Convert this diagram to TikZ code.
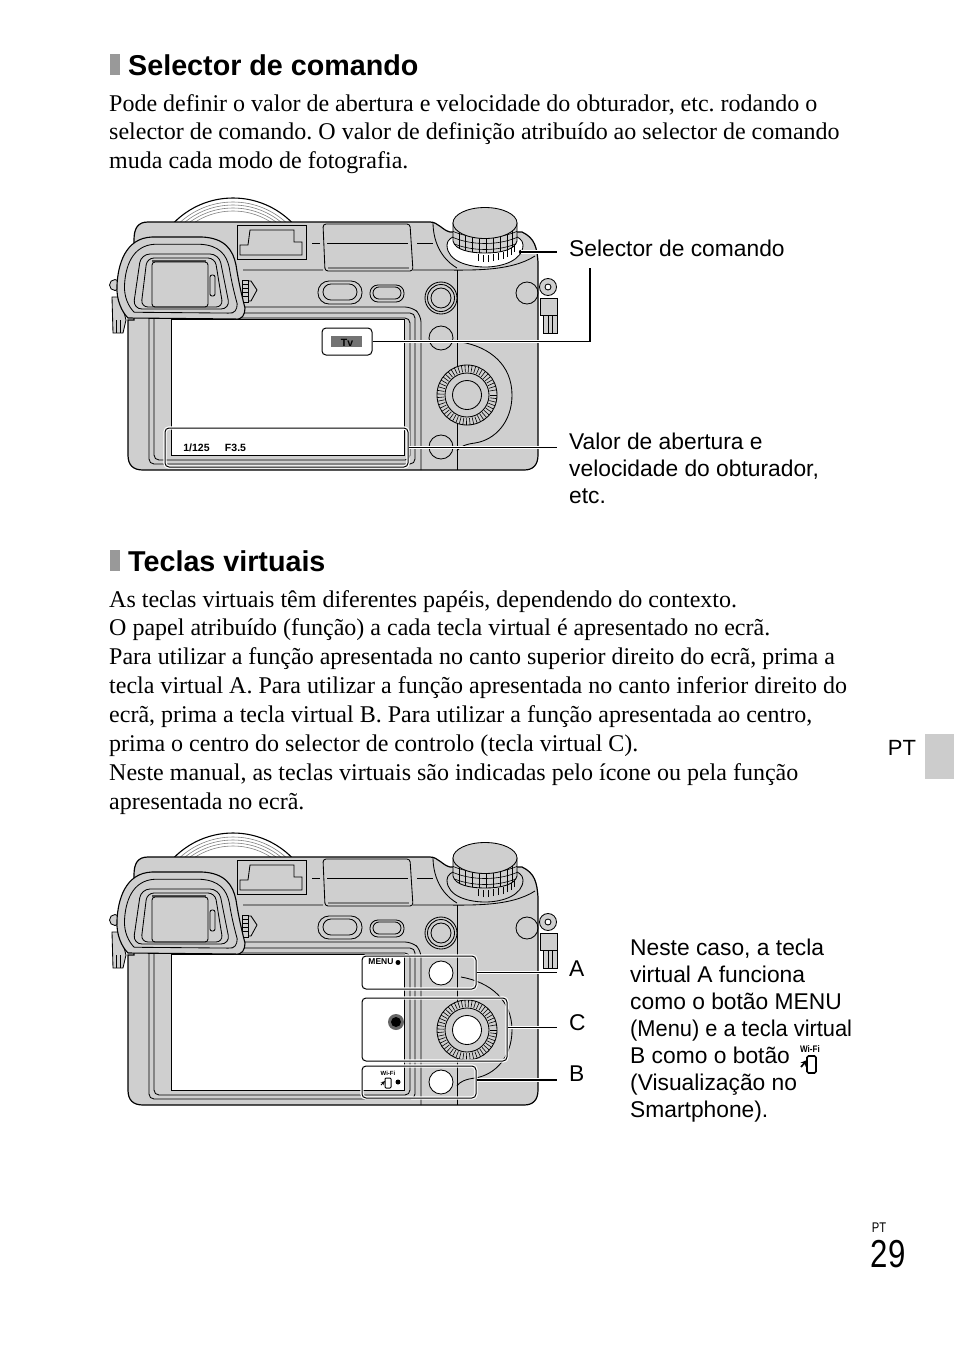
\documentclass[tikz,border=0pt]{standalone}
\usepackage{fontspec}
\setmainfont{Liberation Serif}
\setsansfont{Liberation Sans}
\usetikzlibrary{positioning}

\definecolor{bodygray}{HTML}{CFCFCF}
\definecolor{tabgray}{HTML}{CCCCCC}
\definecolor{markgray}{HTML}{999999}

\tikzset{
	heading/.style={inner sep=0pt,anchor=west,font=\sffamily\bfseries\fontsize{28.7}{32}\selectfont},
	bodytext/.style={inner sep=0pt,anchor=north west,align=left,font=\frenchspacing\fontsize{24}{28.85}\selectfont},
	lbl/.style={inner sep=0pt,anchor=north west,align=left,font=\sffamily\frenchspacing\fontsize{22.8}{26.9}\selectfont},
	tiny/.style={inner sep=0pt,font=\sffamily\bfseries\fontsize{10.5}{11}\selectfont},
	callbox/.style={draw=white,line width=3.4pt,rounded corners=4pt},
	callframe/.style={draw=black,line width=1pt,rounded corners=4pt,inner sep=0pt},
	callline/.style={draw=black,line width=1.1pt,preaction={draw=white,line width=3.4pt}},
	part/.style={draw=black,line width=.85pt},
}

\newcommand{\eyeoutline}{(128,318) .. controls (122,312) and (116,300) .. (117,285) .. controls (118,265) and (125,238) .. (152,237) -- (202,237) .. controls (225,238) and (233,250) .. (236,265) .. controls (239,285) and (243,300) .. (245,308) .. controls (245,315) and (242,320) .. (235,319) -- cycle}

% #1 dial ring, #2 buttons
\newcommand{\cameraback}[2]{
	% lens
	\begin{scope}
		\clip (160,190) rectangle (310,224);
		\draw[draw=black,line width=1.1pt,fill=white] (233,281) circle (83);
		\draw[gray,line width=.6pt] (233,281) circle (79);
		\draw[gray,line width=.6pt] (233,281) circle (76);
		\draw[gray,line width=.6pt] (233,281) circle (73);
		\draw[gray,line width=.6pt] (233,281) circle (70);
	\end{scope}
	% strap lugs
	\draw[part,fill=bodygray] (115,285) circle (5.5);
	\draw[part,fill=bodygray] (112,297) -- (120,297) -- (126,320) -- (123,333) -- (113,333) -- cycle;
	\draw[part] (116,320) -- (116,333) (120,320) -- (120,333);
	\draw[part,fill=bodygray] (548,287) circle (8.5);
	\draw[part,fill=white] (548,287) circle (3);
	\draw[part,fill=bodygray] (543,315) -- (557,315) -- (557,333) -- (543,333) -- cycle;
	\draw[part] (548,315) -- (548,333) (552,315) -- (552,333);
	\draw[part,fill=bodygray] (540,298) -- (557,298) -- (557,315) -- (540,315) -- cycle;
	% body
	\draw[draw=black,line width=1.2pt,fill=bodygray] (128,320) -- (128,455) .. controls (128,465) and (133,470) .. (143,470) -- (524,470) .. controls (533,470) and (538,465) .. (538,455) -- (538,262) .. controls (537,248) and (535,238) .. (522,232) -- (450,232) .. controls (442,230) and (438,222) .. (430,222) -- (148,222) .. controls (138,222) and (134,228) .. (134,240) -- (134,320) -- cycle;
	% top plate
	\draw[part,fill=bodygray] (237,225) -- (306,225) -- (306,259) -- (237,259) -- cycle;
	\draw[part] (240,255) -- (240,245) -- (248,245) -- (250,230) -- (294,230) -- (294,242) -- (302,242) -- (302,255) -- cycle;
	\draw[part,rounded corners=3pt,fill=bodygray] (323,224) -- (410,224) -- (413,271) -- (325,271) -- cycle;
	\draw[line width=1.6pt,gray] (328,268) -- (409,268);
	\draw[part] (312,243) -- (320,243) (327,243) -- (408,243) (417,243) -- (433,243);
	\draw[part] (243,270) -- (323,270) (413,270) -- (440,270) .. controls (470,270) and (510,272) .. (535,256);
	\draw[part] (433,222) .. controls (433,240) and (440,258) .. (457,268);
	\draw[part] (457,270) -- (457,470);
	% thumb dial beside the eyepiece
	\draw[part,fill=bodygray] (247,281) -- (251,281) -- (257,290) -- (251,301) -- (247,301) -- cycle;
	\draw[part,fill=bodygray] (242,280) rectangle (248,302);
	\foreach \dy in {284,288,292,296}
		\draw[part] (242,\dy) -- (248,\dy);
	% pills
	\draw[part,rounded corners=11pt] (318,281) rectangle (362,304);
	\draw[part,rounded corners=8pt] (323,284) rectangle (357,300);
	\draw[part,rounded corners=8pt] (370,285) rectangle (404,302);
	\draw[part,rounded corners=6pt] (373,287) rectangle (401,299);
	% rear buttons
	\draw[part] (441,298) circle (16);
	\draw[part] (441,298) circle (13.5);
	\draw[part] (441,298) circle (10);
	\draw[part] (527,293) ellipse (11 and 11);
	\draw[part,fill=#2] (441,338) circle (12);
	\draw[part,fill=#2] (441,447) circle (12);
	% control dial
	\draw[part] (461,342) .. controls (490,347) and (512,365) .. (512,395) .. controls (512,422) and (495,440) .. (475,443) .. controls (466,444) and (459,447) .. (457,451);
	\draw[part,fill=bodygray] (467,395) circle (30);
	\foreach \a in {0,7,...,353}
		\draw[line width=.6pt] (467,395) ++(\a:23) -- ++(\a:7);
	\draw[part] (467,395) circle (22);
	\draw[part,fill=#2] (467,395) circle (14.5);
	% monitor frame
	\draw[part,rounded corners=5pt] (154,318) -- (154,460) -- (410,460) -- (410,318) -- (225,318);
	\draw[part,rounded corners=5pt] (149,318) -- (149,464) -- (415,464) -- (415,313) -- (235,313);
	\draw[part,rounded corners=7pt] (240,307) -- (412,307) -- (421,315) -- (421,470);
	\draw[part,fill=white] (171,319) rectangle (404,455);
	% eyepiece
	\draw[draw=black,line width=1.1pt,fill=bodygray] \eyeoutline;
	\begin{scope}[shift={(180,282)},xscale=.88,yscale=.84,shift={(-180,-282)}]
		\draw[part] \eyeoutline;
	\end{scope}
	\draw[part,rounded corners=9pt] (133,309) -- (141,254) -- (219,254) -- (230,309) -- cycle;
	\draw[part,rounded corners=7pt] (141,307) -- (147,258) -- (215,258) -- (223,307) -- cycle;
	\draw[line width=1.6pt,black!70] (152,261) -- (206,261);
	\draw[part,rounded corners=3pt] (152,262) -- (208,262) -- (208,307) -- (152,307) -- cycle;
	\draw[part,rounded corners=2pt] (210,275) rectangle (215,296);
	% command dial
	\draw[part,fill=#1] (447,245) .. controls (447,262) and (470,267) .. (485,267) .. controls (503,267) and (523,260) .. (523,245) .. controls (523,235) and (505,232) .. (485,232) .. controls (465,232) and (447,235) .. (447,245) -- cycle;
	\foreach \tx/\ty in {478/261,483/262,488/262,493/261,498/260,503/259,507/257,511/255,514/252}
		\draw[line width=.6pt] (\tx,\ty) -- (\tx,\ty-7);
	\draw[part,fill=bodygray] (453,223) -- (453,241) .. controls (455,250) and (470,253) .. (485,253) .. controls (500,253) and (515,250) .. (517,241) -- (517,223) -- cycle;
	\begin{scope}
		\clip (453,223) -- (453,241) .. controls (455,250) and (470,253) .. (485,253) .. controls (500,253) and (515,250) .. (517,241) -- (517,223) -- cycle;
		\foreach \hx in {459,465,472,479,486,493,500,507,512}
			\draw[line width=.6pt] (\hx,222) -- (\hx,254);
		\foreach \hy in {0,6,12}
			\draw[line width=.6pt] (450,230+\hy) .. controls (470,240+\hy) and (500,240+\hy) .. (520,230+\hy);
	\end{scope}
	\draw[part,fill=bodygray] (485,223) ellipse (32 and 15.5);
}

\begin{document}
\begin{tikzpicture}[x=1pt,y=-1pt]
	\useasboundingbox (0,0) rectangle (954,1345);
	\fill[white] (0,0) rectangle (954,1345);

	% top section
	\fill[markgray] (110,54) rectangle (120,75);
	\node[heading] (headone) at (128,65) {Selector de comando};
	\node[bodytext] (textone) at (109,94) {Pode definir o valor de abertura e velocidade do obturador, etc. rodando o\\selector de comando. O valor de definição atribuído ao selector de comando\\muda cada modo de fotografia.};

	\cameraback{white}{bodygray}

	\node[tiny] (speed) at (196.5,448) {1/125};
	\node[tiny] (fnum) at (235.5,448) {F3.5};
	\draw[callbox] (322,328) rectangle (372,355);
	\fill[black!55] (331,336) rectangle (362,347);
	\node[tiny] (tvlabel) at (347,343) {Tv};
	\node[callframe,minimum width=50pt,minimum height=27pt] (tvbox) at (347,341.5) {};
	\draw[callbox] (165,428) rectangle (408,467);
	\node[callframe,minimum width=243pt,minimum height=39pt] (barbox) at (286.5,447.5) {};

	\node[lbl] (sellabel) at (569,239.5) {Selector de comando};
	\node[lbl] (vallabel) at (569,433) {Valor de abertura e\\velocidade do obturador,\\etc.};

	\coordinate (ringdot) at (521,252);
	\fill (ringdot) circle (2.2);
	\draw[callline,shorten >=12pt] (ringdot) -- (ringdot -| sellabel.west);
	\draw[callline] (tvbox.east) -| ([xshift=21pt,yshift=-11pt]sellabel.south west);
	\draw[callline,shorten >=12pt] (barbox.east) -- (barbox.east -| vallabel.west);

	% second section
	\fill[markgray] (110,550) rectangle (120,571);
	\node[heading] (headtwo) at (128,561) {Teclas virtuais};
	\node[bodytext] (texttwo) at (109,590) {As teclas virtuais têm diferentes papéis, dependendo do contexto.\\O papel atribuído (função) a cada tecla virtual é apresentado no ecrã.\\Para utilizar a função apresentada no canto superior direito do ecrã, prima a\\tecla virtual A. Para utilizar a função apresentada no canto inferior direito do\\ecrã, prima a tecla virtual B. Para utilizar a função apresentada ao centro,\\prima o centro do selector de controlo (tecla virtual C).\\Neste manual, as teclas virtuais são indicadas pelo ícone ou pela função\\apresentada no ecrã.};

	\begin{scope}[shift={(0,635)}]
		\cameraback{bodygray}{white}
		\node[tiny,font=\sffamily\bfseries\fontsize{8.5}{9}\selectfont] (menutag) at (381,327) {MENU};
		\fill (398,327.5) circle (2.5);
		\begin{scope}
			\clip (370,370) rectangle (404,405);
			\fill[black!60] (396,387) circle (8);
			\fill[black] (396,387) circle (5);
		\end{scope}
		\node[tiny,font=\sffamily\bfseries\fontsize{6}{7}\selectfont] (wifitag) at (388,438) {Wi-Fi};
		\draw[line width=1pt,rounded corners=1pt] (385,443) rectangle (391,453);
		\draw[line width=.8pt,->,>=stealth] (381,450) -- (385,446);
		\fill (398,447) circle (2.5);
		\draw[callbox] (362,321) rectangle (476,354);
		\node[callframe,minimum width=114pt,minimum height=33pt] (boxa) at (419,337.5) {};
		\draw[callbox] (362,363) rectangle (507,426);
		\node[callframe,minimum width=145pt,minimum height=63pt] (boxc) at (434.5,394.5) {};
		\draw[callbox] (362,431) rectangle (476,463);
		\node[callframe,minimum width=114pt,minimum height=32pt] (boxb) at (419,447) {};
		\node[lbl] (labela) at (569,326) {A};
		\node[lbl] (labelc) at (569,379) {C};
		\node[lbl] (labelb) at (569,431) {B};
		\draw[callline,shorten >=12pt] (boxa.east) -- (boxa.east -| labela.west);
		\draw[callline,shorten >=12pt] ([yshift=2pt]boxc.east) -- ([yshift=2pt]boxc.east -| labelc.west);
		\draw[callline,shorten >=12pt] ([yshift=2pt]boxb.east) -- ([yshift=2pt]boxb.east -| labelb.west);
	\end{scope}

	\node[lbl] (notelabel) at (630,939) {Neste caso, a tecla\\virtual A funciona\\como o botão MENU\\\scalebox{.957}[1]{(Menu) e a tecla virtual}\\B como o botão\\(Visualização no\\Smartphone).};
	% wi-fi icon in the note
	\node[tiny,font=\sffamily\bfseries\fontsize{9.5}{10}\selectfont,xscale=.85] (wifiicon) at (810,1049) {Wi-Fi};
	\draw[line width=1.7pt,rounded corners=1.5pt] (807,1056) rectangle (816,1073);
	\draw[line width=1.7pt,->,>=stealth] (801,1067) -- (807,1060);

	% margin tab and page number
	\fill[tabgray] (925,734) rectangle (954,779);
	\node[inner sep=0pt,font=\sffamily\fontsize{22}{24}\selectfont] (tabtext) at (902,748) {PT};
	\node[inner sep=0pt,font=\sffamily\fontsize{14}{16}\selectfont,xscale=.8] (pagecode) at (879,1228) {PT};
	\node[inner sep=0pt,font=\sffamily\fontsize{39}{44}\selectfont,xscale=.8] (pagenum) at (888,1254) {29};
\end{tikzpicture}
\end{document}
